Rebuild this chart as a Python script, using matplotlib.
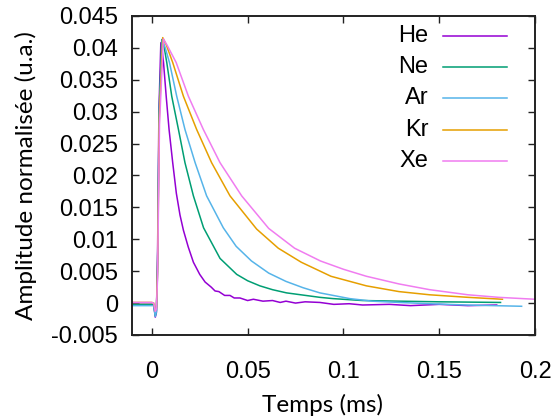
import matplotlib
matplotlib.use('Agg')
import matplotlib.pyplot as plt

# values (time in ms, normalised amplitude)
names = ['He', 'Ne', 'Ar', 'Kr', 'Xe']
colors = ['#9400d3', '#009e73', '#56b4e9', '#e69f00', '#f07cf0']

t_he = [-0.0105, -0.005, 0.0, 0.001, 0.0018, 0.0024, 0.003, 0.0037, 0.0047, 0.0054, 0.0061,
        0.0075, 0.009, 0.0109, 0.0128, 0.0147, 0.0165, 0.019, 0.0217, 0.025, 0.0278, 0.031, 0.033,
        0.035, 0.038, 0.0408, 0.043, 0.046, 0.05, 0.053, 0.058, 0.063, 0.067, 0.07, 0.075,
        0.08, 0.0877, 0.095, 0.103, 0.11, 0.124, 0.135, 0.15, 0.165, 0.18]
v_he = [-0.0002, -0.0002, -0.0002, -0.0003, -0.0022, -0.0015, 0.008, 0.030, 0.0408, 0.0395, 0.0377,
        0.0324, 0.0272, 0.022, 0.0172, 0.0138, 0.0114, 0.0088, 0.0064, 0.0045, 0.0033, 0.0025, 0.0019,
        0.0018, 0.0012, 0.0012, 0.0008, 0.0008, 0.0004, 0.0006, 0.0003, 0.0004, 0.0001, 0.0003, 0.0,
        0.0002, 0.0001, -0.0002, -0.0001, -0.0003, -0.0002, -0.0004, -0.0002, -0.0004, -0.0003]

t_ne = [-0.0105, -0.005, 0.0, 0.001, 0.0018, 0.0024, 0.003, 0.0038, 0.0052, 0.0065, 0.0078,
        0.0104, 0.0139, 0.0173, 0.0217, 0.027, 0.0356, 0.0443, 0.05, 0.0564, 0.063, 0.0703,
        0.0877, 0.0946, 0.11, 0.129, 0.15, 0.182]
v_ne = [-0.0002, -0.0002, -0.0002, -0.0003, -0.002, -0.0012, 0.006, 0.030, 0.0413, 0.040, 0.0377,
        0.0324, 0.0272, 0.022, 0.0168, 0.0118, 0.007, 0.0045, 0.0035, 0.0027, 0.0021, 0.0016,
        0.0009, 0.0007, 0.0004, 0.0003, 0.0002, 0.0001]

t_ar = [-0.0105, -0.005, 0.0, 0.001, 0.0018, 0.0024, 0.003, 0.0038, 0.0055, 0.007, 0.0092,
        0.013, 0.0173, 0.0226, 0.0286, 0.0373, 0.044, 0.052, 0.061, 0.07, 0.079, 0.0877,
        0.1033, 0.115, 0.129, 0.145, 0.164, 0.193]
v_ar = [-0.0004, -0.0004, -0.0004, -0.0004, -0.0021, -0.0013, 0.005, 0.029, 0.0413, 0.040, 0.0377,
        0.0324, 0.0272, 0.022, 0.0168, 0.0118, 0.0089, 0.0066, 0.0047, 0.0034, 0.0024, 0.0016,
        0.0007, 0.0003, 0.0001, -0.0001, -0.0003, -0.0005]

t_kr = [-0.0105, -0.005, 0.0, 0.001, 0.0018, 0.0024, 0.003, 0.0039, 0.0057, 0.0075, 0.0109,
        0.0165, 0.0234, 0.0312, 0.0408, 0.0547, 0.066, 0.078, 0.0935, 0.112, 0.129,
        0.145, 0.165, 0.183]
v_kr = [0.0001, 0.0001, 0.0001, 0.0, -0.0012, -0.0008, 0.005, 0.029, 0.0416, 0.0405, 0.0377,
        0.0324, 0.0272, 0.022, 0.0168, 0.0116, 0.0086, 0.0064, 0.0042, 0.0027, 0.0018,
        0.0013, 0.0009, 0.0006]

t_xe = [-0.0105, -0.005, 0.0, 0.001, 0.0018, 0.0024, 0.003, 0.004, 0.006, 0.008, 0.0127,
        0.0191, 0.0269, 0.0356, 0.0469, 0.061, 0.0745, 0.088, 0.1, 0.112, 0.129,
        0.145, 0.165, 0.181, 0.2]
v_xe = [0.0001, 0.0001, 0.0001, 0.0, -0.0013, -0.0009, 0.004, 0.028, 0.0414, 0.0404, 0.0377,
        0.0324, 0.0272, 0.022, 0.0168, 0.0117, 0.0086, 0.0066, 0.0053, 0.0042, 0.003,
        0.0021, 0.0013, 0.0009, 0.0006]

times = [t_he, t_ne, t_ar, t_kr, t_xe]
values = [v_he, v_ne, v_ar, v_kr, v_xe]

xticks = [0, 0.05, 0.1, 0.15, 0.2]
xtick_labels = ['0', '0.05', '0.1', '0.15', '0.2']
yticks = [-0.005, 0, 0.005, 0.01, 0.015, 0.02, 0.025, 0.03, 0.035, 0.04, 0.045]
ytick_labels = ['-0.005', '0', '0.005', '0.01', '0.015', '0.02', '0.025', '0.03', '0.035', '0.04', '0.045']

fig = plt.figure(figsize=(5.55, 4.19), dpi=100)
ax = fig.add_axes([0.238, 0.2005, 0.726, 0.7615])

for t, v, c in zip(times, values, colors):
    ax.plot(t, v, color=c, linewidth=1.1)

ax.set_xlim(-0.0103, 0.2)
ax.set_ylim(-0.005, 0.045)
ax.set_xticks(xticks)
ax.set_xticklabels(xtick_labels, family='Liberation Sans', fontsize=17)
ax.set_yticks(yticks)
ax.set_yticklabels(ytick_labels, family='Liberation Sans', fontsize=17)
ax.tick_params(direction='in', top=True, right=True, length=5, width=1, color='#222222')
ax.tick_params(axis='x', pad=19)
ax.tick_params(axis='y', pad=10)
for s in ax.spines.values():
    s.set_linewidth(1.4)
    s.set_color('#222222')

ax.set_xlabel('Temps (ms)', family='Lato', fontsize=17.5)
ax.set_ylabel('Amplitude normalisée (u.a.)', family='Lato', fontsize=17.5)
ax.xaxis.set_label_coords(0.473, -0.185)
ax.yaxis.set_label_coords(-0.236, 0.5)

# gnuplot-style key: label right aligned, then a short line
for i, (n, c) in enumerate(zip(names, colors)):
    y = 0.938 - i * 0.098
    ax.text(0.735, y, n, transform=ax.transAxes, ha='right', va='center',
            family='Liberation Sans', fontsize=17)
    ax.plot([0.772, 0.93], [y, y], transform=ax.transAxes, color=c, linewidth=1.1)

fig.savefig('out.png', dpi=100)
